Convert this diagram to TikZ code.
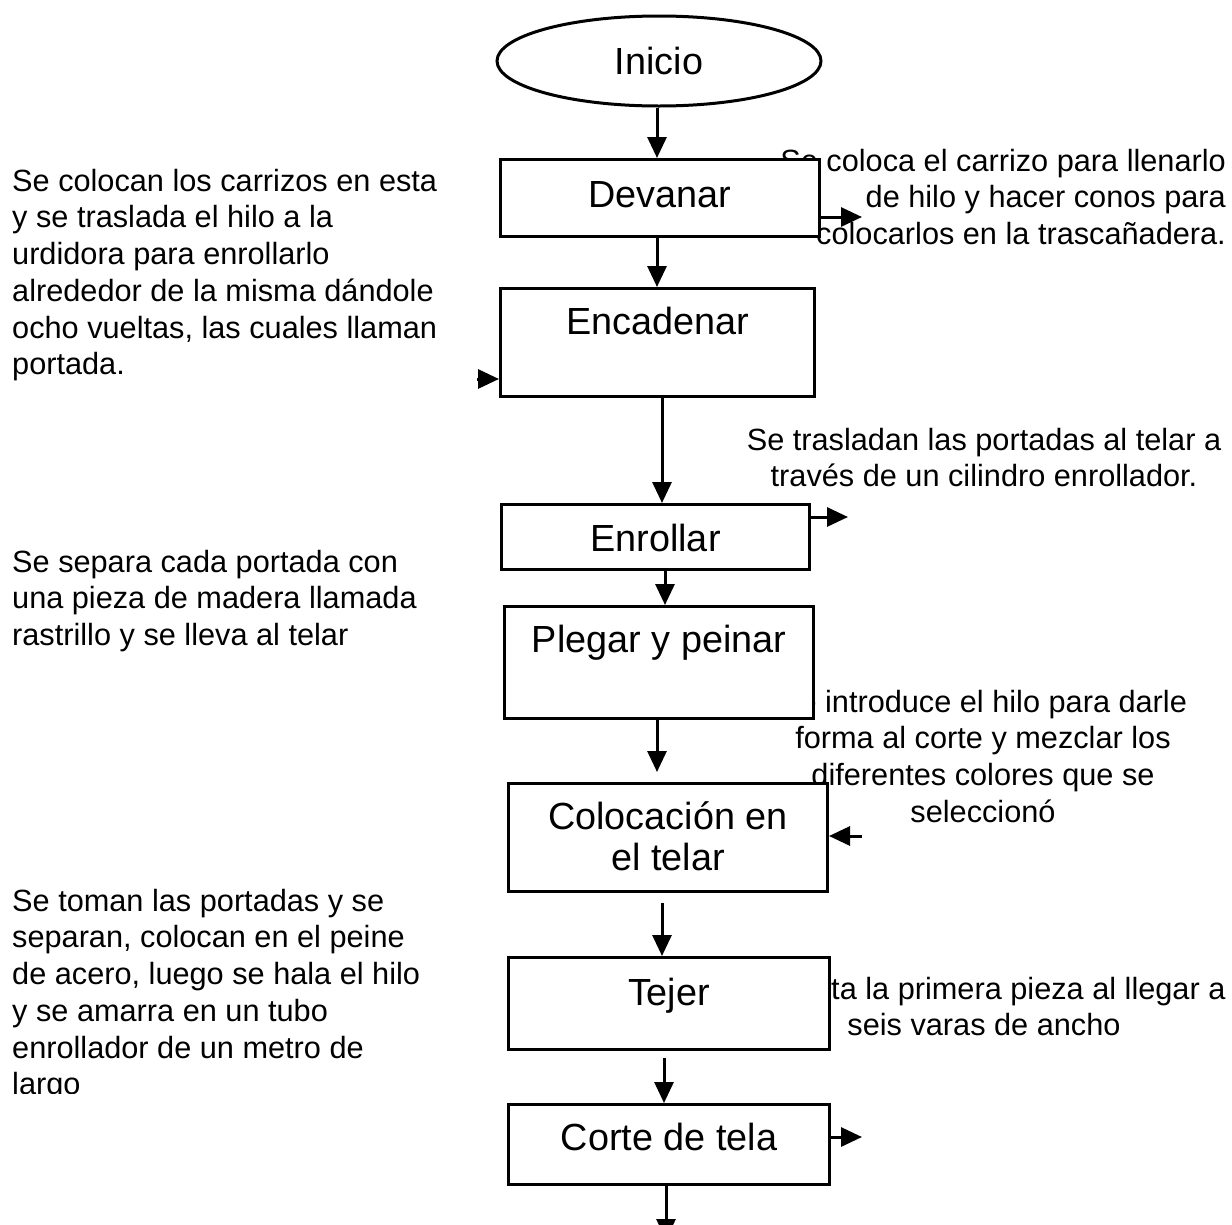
\documentclass[tikz,border=0pt]{standalone}
\usepackage{fontspec}
\setmainfont{Liberation Sans}
\usetikzlibrary{shapes.geometric,arrows.meta}
\newcommand\sidefont{\fontsize{30.7pt}{36.7pt}\selectfont}
\newcommand\labfont{\fontsize{37.8pt}{40pt}\selectfont}
\newcommand\fst{\rule{0pt}{30pt}}
\begin{document}
\begin{tikzpicture}[x=1pt,y=-1pt,
  proc/.style={draw, line width=3pt, fill=white, font=\labfont, inner sep=0pt, anchor=north west},
  arr/.style={line width=3pt, -{Triangle[length=21pt,width=19pt]}},
  note/.style={font=\sidefont, inner sep=0pt, anchor=north}]
\useasboundingbox[fill=white] (0,0) rectangle (1232,1224);

% side notes (drawn first: the boxes cover parts of them)
\node[note, anchor=north west, align=left] (n1) at (12,161) {\fst Se colocan los carrizos en esta\\ y se traslada el hilo a la\\ urdidora para enrollarlo\\ alrededor de la misma dándole\\ ocho vueltas, las cuales llaman\\ portada.};
\node[note, anchor=north west, align=left] (n2) at (12,542) {\fst Se separa cada portada con\\ una pieza de madera llamada\\ rastrillo y se lleva al telar};
\begin{scope}
\clip (0,0) rectangle (490,1093);
\node[note, anchor=north west, align=left] (n3) at (12,881) {\fst Se toman las portadas y se\\ separan, colocan en el peine\\ de acero, luego se hala el hilo\\ y se amarra en un tubo\\ enrollador de un metro de\\ largo};
\end{scope}
\node[note, anchor=north east, align=right] (n4) at (1226,141) {\fst Se coloca el carrizo para llenarlo\\ de hilo y hacer conos para\\ colocarlos en la trascañadera.};
\node[note, align=center] (n5) at (984,420) {\fst Se trasladan las portadas al telar a\\ través de un cilindro enrollador.};
\node[note, align=center] (n6) at (983,682) {\fst Se introduce el hilo para darle\\ forma al corte y mezclar los\\ diferentes colores que se\\ seleccionó};
\node[note, align=center] (n7) at (984,969) {\fst Se corta la primera pieza al llegar a\\ seis varas de ancho};

% flow
\node[draw, ellipse, line width=3pt, fill=white, minimum width=324pt, minimum height=90pt, inner sep=0pt, font=\labfont] (inicio) at (659,61) {Inicio};
\node[proc, minimum width=319pt, text height=47.5pt, text depth=29.5pt] (devanar) at (499,158) {Devanar};
\node[proc, minimum width=314pt, text height=46pt, text depth=62pt] (encadenar) at (499,287) {Encadenar};
\node[proc, minimum width=308pt, text height=47pt, text depth=18pt] (enrollar) at (500,503) {Enrollar};
\node[proc, minimum width=309pt, text height=46pt, text depth=66pt] (plegar) at (503,605) {Plegar y peinar};
\node[proc, minimum width=319pt, text height=46pt, text depth=62pt] (coloc) at (507,782) {\begin{tabular}[t]{@{}c@{}}Colocación en\\[1pt] el telar\end{tabular}};
\node[proc, minimum width=321pt, text height=48pt, text depth=44pt] (tejer) at (507,956) {Tejer};
\node[proc, minimum width=321pt, text height=46pt, text depth=34pt] (corte) at (507,1103) {Corte de tela};

\coordinate (devout) at (862,217);
\coordinate (encin) at (477,379);
\coordinate (enrout) at (848,517);
\coordinate (colin) at (862,836);
\coordinate (corout) at (862,1137);
\coordinate (endout) at (666,1240);

\draw[arr] (inicio.south -| 657,0) -- (devanar.north -| 657,0);
\draw[arr] (devanar.south -| 657,0) -- (encadenar.north -| 657,0);
\draw[arr] (encadenar.south -| 662,0) -- (enrollar.north -| 662,0);
\draw[arr] (enrollar.south -| 665,0) -- (plegar.north -| 665,0);
\draw[arr, shorten >=10pt] (plegar.south -| 657,0) -- (coloc.north -| 657,0);
\draw[arr, shorten <=10pt] (coloc.south -| 662,0) -- (tejer.north -| 662,0);
\draw[arr, shorten <=7pt] (tejer.south -| 664,0) -- (corte.north -| 664,0);
\draw[arr] (corte.south -| 666,0) -- (endout);

\draw[arr] (devanar.east |- devout) -- (devout);
\draw[arr] (encin) -- (encadenar.west |- encin);
\draw[arr] (enrollar.east |- enrout) -- (enrout);
\draw[arr] (colin) -- (coloc.east |- colin);
\draw[arr] (corte.east |- corout) -- (corout);
\end{tikzpicture}
\end{document}
